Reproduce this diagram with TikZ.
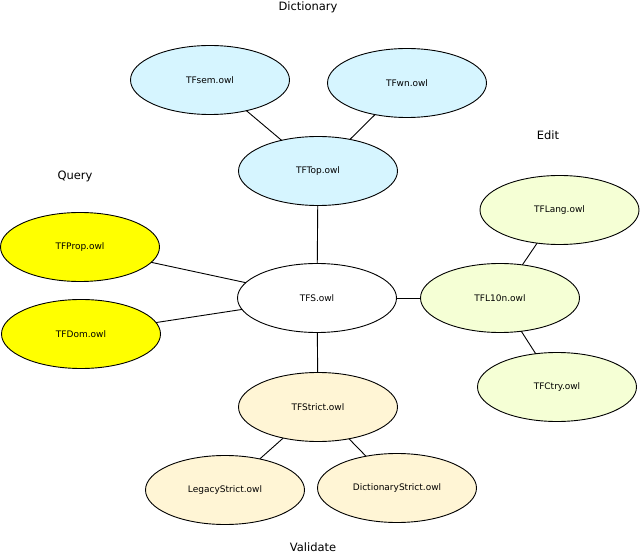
\documentclass[tikz,border=0pt]{standalone}
\usepackage{fontspec}
\setmainfont{DejaVu Sans}
\usetikzlibrary{shapes.geometric}
\definecolor{cblue}{HTML}{D6F5FF}
\definecolor{cyel}{HTML}{FFFF00}
\definecolor{cgreen}{HTML}{F5FFD5}
\definecolor{ccream}{HTML}{FFF5D5}
\begin{document}
\begin{tikzpicture}[x=1pt,y=-1pt,
  owl/.style={ellipse,draw=black,line width=0.9pt,minimum width=159pt,minimum height=69pt,inner sep=0pt,outer sep=0pt,font=\fontsize{9}{10}\selectfont},
  grp/.style={font=\fontsize{11.5}{13}\selectfont,inner sep=0pt},
  conn/.style={draw=black,line width=0.9pt}]
\useasboundingbox (0,0) rectangle (640,553);
\node[owl,fill=cblue] (sem) at (210,80) {TFsem.owl};
\node[owl,fill=cblue] (wn) at (407,83) {TFwn.owl};
\node[owl,fill=cblue] (top) at (318,171) {TFTop.owl};
\node[owl,fill=white] (tfs) at (317,298) {TFS.owl};
\node[owl,fill=cyel] (prop) at (80,247) {TFProp.owl};
\node[owl,fill=cyel] (dom) at (81,334) {TFDom.owl};
\node[owl,fill=cgreen] (l10n) at (500,298) {TFL10n.owl};
\node[owl,fill=cgreen] (lang) at (559.5,210) {TFLang.owl};
\node[owl,fill=cgreen] (ctry) at (557,387) {TFCtry.owl};
\node[owl,fill=ccream] (strict) at (318,407) {TFStrict.owl};
\node[owl,fill=ccream] (legacy) at (225,490) {LegacyStrict.owl};
\node[owl,fill=ccream] (dict) at (397,488) {DictionaryStrict.owl};
\node[grp] (gdict) at (308,7) {Dictionary};
\node[grp] (gedit) at (548,135) {Edit};
\node[grp] (gquery) at (75,176) {Query};
\node[grp] (gval) at (313,547) {Validate};
\draw[conn] (sem) -- (top);
\draw[conn] (wn) -- (top);
\draw[conn] (top) -- (tfs);
\draw[conn] (prop) -- (tfs);
\draw[conn] (dom) -- (tfs);
\draw[conn] (tfs) -- (l10n);
\draw[conn] (lang) -- (l10n);
\draw[conn] (ctry) -- (l10n);
\draw[conn] (tfs) -- (strict);
\draw[conn] (strict) -- (legacy);
\draw[conn] (strict) -- (dict);
\end{tikzpicture}
\end{document}
